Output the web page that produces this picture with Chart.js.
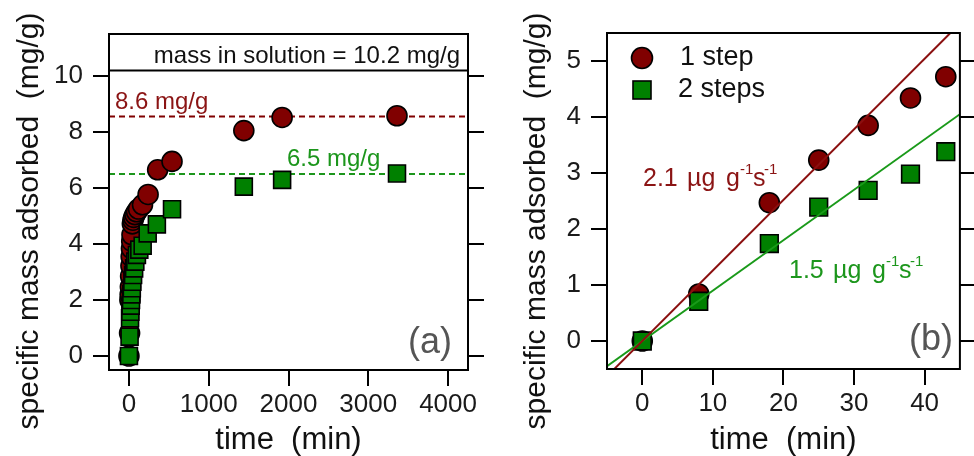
<!DOCTYPE html>
<html>
<head>
<meta charset="utf-8">
<script src="https://cdn.jsdelivr.net/npm/chart.js@4.4.1/dist/chart.umd.min.js"></script>
<style>
  html, body { margin: 0; padding: 0; background: #fff; }
  #wrap { position: relative; width: 974px; height: 456px; overflow: hidden; }
  .panel { position: absolute; top: 0; width: 487px; height: 456px; }
</style>
</head>
<body>
<div id="wrap">
  <div class="panel" style="left:0"><canvas id="chartA" width="487" height="456"></canvas></div>
  <div class="panel" style="left:487px"><canvas id="chartB" width="487" height="456"></canvas></div>
</div>
<script>
// panel (a): whole run, time in min
var timeA1 = [0, 8, 12, 15, 18, 21, 25, 28, 32, 35, 38, 43, 50, 60, 75, 95, 120, 170, 240, 360, 540, 1440, 1920, 3360];
var massA1 = [0, 0.82, 2.0, 2.2, 2.47, 2.85, 3.22, 3.55, 3.84, 4.1, 4.33, 4.72, 4.85, 4.95, 5.05, 5.15, 5.25, 5.4, 5.77, 6.65, 6.95, 8.05, 8.52, 8.58];
var timeA2 = [0, 8, 14, 18, 22, 26, 30, 36, 43, 52, 65, 80, 100, 130, 172, 235, 350, 540, 1440, 1920, 3360];
var massA2 = [0, 0.69, 1.35, 1.58, 1.80, 2.0, 2.2, 2.42, 2.65, 2.89, 3.13, 3.37, 3.61, 3.8, 3.94, 4.38, 4.70, 5.24, 6.05, 6.29, 6.52];
var plateauX = [-250, 4250];
var plateau1 = [8.55, 8.55];
var plateau2 = [6.5, 6.5];
var solution = [10.2, 10.2];
var xTicksA = [0, 1000, 2000, 3000, 4000];
var yTicksA = [0, 2, 4, 6, 8, 10];

// panel (b): first 45 min with linear fits
var timeB = [0, 8, 18, 25, 32, 38, 43];
var massB1 = [0, 0.84, 2.47, 3.23, 3.85, 4.34, 4.72];
var massB2 = [0, 0.71, 1.74, 2.39, 2.69, 2.98, 3.38];
var fitX = [-5, 45];
var fitB1 = [-0.63, 5.67];
var fitB2 = [-0.45, 4.05];
var xTicksB = [0, 10, 20, 30, 40];
var yTicksB = [0, 1, 2, 3, 4, 5];

var RED = '#800000';
var GREEN = '#008000';
var RED_TXT = '#8b1414';
var GREEN_TXT = '#1c961c';
var FONT = '"Liberation Sans", Arial, sans-serif';

Chart.defaults.font.family = FONT;

function pts(xs, ys) {
  return xs.map(function (x, i) { return { x: x, y: ys[i] }; });
}

function scatterSet(label, xs, ys, style, color, radius, order) {
  return {
    label: label, data: pts(xs, ys), pointStyle: style, pointRadius: radius,
    backgroundColor: color, borderColor: '#000', borderWidth: 1.6, order: order
  };
}

function lineSet(xs, ys, color, dash, order) {
  return {
    data: pts(xs, ys), showLine: true, pointRadius: 0, borderColor: color,
    borderWidth: 2, borderDash: dash, order: order
  };
}

function plain(v) { return String(v); }

function buildOptions(c) {
  return {
    responsive: false,
    animation: false,
    layout: { padding: { top: c.top, right: c.right, left: 0, bottom: 0 } },
    plugins: { legend: { display: false }, tooltip: { enabled: false } },
    scales: {
      x: {
        type: 'linear', min: c.xMin, max: c.xMax,
        afterBuildTicks: function (s) { s.ticks = c.xTicks.map(function (v) { return { value: v }; }); },
        afterFit: function (s) { s.height = c.xHeight; },
        grid: { drawOnChartArea: false, tickLength: 16, lineWidth: 2, tickWidth: 2, tickColor: '#000' },
        border: { display: false },
        ticks: { color: '#1a1a1a', font: { size: 26 }, padding: 3, maxRotation: 0, callback: plain },
        title: { display: true, text: 'time  (min)', color: '#111', font: { size: 31, lineHeight: 1 }, padding: 0 }
      },
      y: {
        type: 'linear', min: c.yMin, max: c.yMax,
        afterBuildTicks: function (s) { s.ticks = c.yTicks.map(function (v) { return { value: v }; }); },
        afterFit: function (s) { s.width = c.yWidth; },
        grid: { drawOnChartArea: false, tickLength: 16, lineWidth: 2, tickWidth: 2, tickColor: '#000' },
        border: { display: false },
        ticks: { color: '#1a1a1a', font: { size: 26 }, padding: 10, callback: plain }
      }
    }
  };
}

// frame, right-hand ticks and y title
var framePlugin = {
  id: 'frame',
  afterDraw: function (chart) {
    var ctx = chart.ctx, a = chart.chartArea, y = chart.scales.y;
    ctx.save();
    ctx.strokeStyle = '#000';
    ctx.lineWidth = 2;
    ctx.strokeRect(a.left, a.top, a.right - a.left, a.bottom - a.top);
    y.ticks.forEach(function (t) {
      var py = y.getPixelForValue(t.value);
      ctx.beginPath();
      ctx.moveTo(a.right, py);
      ctx.lineTo(a.right + 16, py);
      ctx.stroke();
    });
    ctx.translate(chart.options.yTitleX, 221);
    ctx.rotate(-Math.PI / 2);
    ctx.fillStyle = '#111';
    ctx.font = '30px ' + FONT;
    ctx.textAlign = 'center';
    ctx.textBaseline = 'middle';
    ctx.fillText('specific mass adsorbed  (mg/g)', 0, 0);
    ctx.restore();
  }
};

function text(ctx, s, x, y, size, color, align, base) {
  ctx.font = size + 'px ' + FONT;
  ctx.fillStyle = color;
  ctx.textAlign = align || 'left';
  ctx.textBaseline = base || 'alphabetic';
  ctx.fillText(s, x, y);
}

// rate label: pieces placed at offsets (px) from x, superscripts raised and smaller
function rateText(ctx, value, x, y, color) {
  var parts = [[value, 0, false], ['\u00b5g', 44, false], ['g', 83, false], ['-1', 97, true], ['s', 110, false], ['-1', 121, true]];
  parts.forEach(function (p) {
    text(ctx, p[0], x + p[1], p[2] ? y - 12 : y, p[2] ? 15 : 25, color);
  });
}

var notesA = {
  id: 'notesA',
  afterDraw: function (chart) {
    var ctx = chart.ctx;
    ctx.save();
    text(ctx, 'mass in solution = 10.2 mg/g', 460, 63, 24, '#111', 'right');
    text(ctx, '8.6 mg/g', 115, 109, 24, RED_TXT);
    text(ctx, '6.5 mg/g', 287, 166, 24, GREEN_TXT);
    text(ctx, '(a)', 452, 343, 36, '#555', 'right', 'middle');
    ctx.restore();
  }
};

var notesB = {
  id: 'notesB',
  afterDraw: function (chart) {
    var ctx = chart.ctx;
    ctx.save();
    // legend
    ctx.lineWidth = 1.6;
    ctx.strokeStyle = '#000';
    ctx.fillStyle = RED;
    ctx.beginPath();
    ctx.arc(155, 58, 10.5, 0, Math.PI * 2);
    ctx.fill();
    ctx.stroke();
    ctx.fillStyle = GREEN;
    ctx.fillRect(146, 81, 18, 18);
    ctx.strokeRect(146, 81, 18, 18);
    text(ctx, '1 step', 193, 58, 27, '#111', 'left', 'middle');
    text(ctx, '2 steps', 191, 90, 27, '#111', 'left', 'middle');
    rateText(ctx, '2.1', 156, 186, RED_TXT);
    rateText(ctx, '1.5', 302, 278, GREEN_TXT);
    text(ctx, '(b)', 466, 340, 36, '#555', 'right', 'middle');
    ctx.restore();
  }
};

var optsA = buildOptions({
  top: 34, right: 19, xHeight: 86, yWidth: 109,
  xMin: -250, xMax: 4250, yMin: -0.5, yMax: 11.5, xTicks: xTicksA, yTicks: yTicksA
});
optsA.yTitleX = 30;

new Chart(document.getElementById('chartA'), {
  type: 'scatter',
  data: {
    datasets: [
      scatterSet('2 steps', timeA2, massA2, 'rect', GREEN, 12, 1),
      scatterSet('1 step', timeA1, massA1, 'circle', RED, 10, 2),
      lineSet(plateauX, plateau1, RED, [6, 4], 3),
      lineSet(plateauX, plateau2, GREEN_TXT, [6, 4], 4),
      lineSet(plateauX, solution, '#000', [], 5)
    ]
  },
  options: optsA,
  plugins: [framePlugin, notesA]
});

var optsB = buildOptions({
  top: 33, right: 9, xHeight: 87, yWidth: 120,
  xMin: -5, xMax: 45, yMin: -0.5, yMax: 5.5, xTicks: xTicksB, yTicks: yTicksB
});
optsB.yTitleX = 50;

new Chart(document.getElementById('chartB'), {
  type: 'scatter',
  data: {
    datasets: [
      lineSet(fitX, fitB1, '#8b1010', [], 1),
      lineSet(fitX, fitB2, '#1a9a1a', [], 2),
      scatterSet('2 steps', timeB, massB2, 'rect', GREEN, 12.5, 3),
      scatterSet('1 step', timeB, massB1, 'circle', RED, 10, 4)
    ]
  },
  options: optsB,
  plugins: [framePlugin, notesB]
});
</script>
</body>
</html>
